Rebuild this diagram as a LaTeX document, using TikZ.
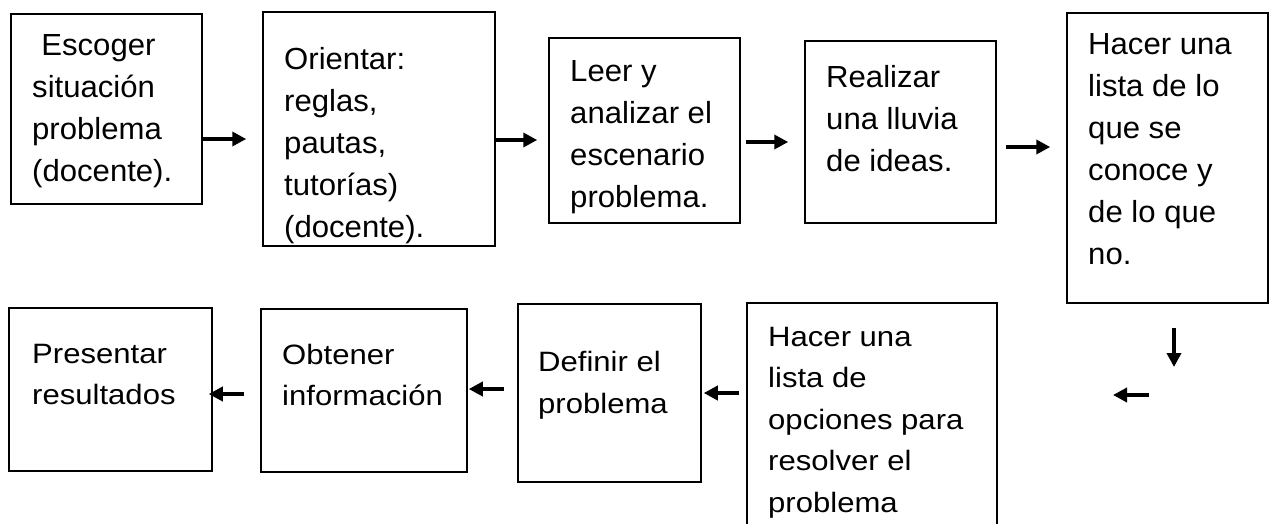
\documentclass[tikz,border=0pt]{standalone}
\usepackage{fontspec}
\setmainfont{Liberation Sans}
\newfontfamily\arribafont[FakeStretch=1.02]{Liberation Sans}
\newfontfamily\abajofont[FakeStretch=1.11]{Liberation Sans}
\usetikzlibrary{arrows.meta}

\begin{document}
\begin{tikzpicture}[x=1pt, y=-1pt,
		paso/.style={draw, line width=1.5pt, inner sep=0pt},
		texto/.style={anchor=north west, inner sep=0pt, align=left, font=\arribafont\fontsize{30.5}{42}\selectfont},
		textob/.style={texto, font=\abajofont\fontsize{28}{41.5}\selectfont},
		flecha/.style={line width=4pt, -{Triangle[length=14pt, width=14pt]}}]
		%%%%% START %%%%%
		
		\useasboundingbox (0, 0) rectangle (1271, 523);
		\clip (0, 0) rectangle (1271, 523);
		
		% fila de arriba
		\node[paso, minimum width=191pt, minimum height=190pt] (b1) at (106.5, 109) {};
		\node[paso, minimum width=232pt, minimum height=234pt] (b2) at (379, 129) {};
		\node[paso, minimum width=191pt, minimum height=185pt] (b3) at (644.5, 130.5) {};
		\node[paso, minimum width=191pt, minimum height=182pt] (b4) at (900.5, 132) {};
		\node[paso, minimum width=201pt, minimum height=290pt] (b5) at (1167.5, 158) {};
		
		\node[texto] (t1) at (32, 34.5) {\hspace*{0.3em}Escoger\\situación\\problema\\(docente).};
		\node[texto] (t2) at (284, 47) {Orientar:\\reglas,\\pautas,\\tutorías)\\(docente).};
		\node[texto] (t3) at (570, 60) {Leer y\\analizar el\\escenario\\problema.};
		\node[texto] (t4) at (826, 65.5) {Realizar\\una lluvia\\de ideas.};
		\node[texto] (t5) at (1088, 33.5) {Hacer una\\lista de lo\\que se\\conoce y\\de lo que\\no.};
		
		% fila de abajo
		\node[paso, minimum width=250pt, minimum height=242pt] (b6) at (872, 424) {};
		\node[paso, minimum width=183pt, minimum height=178pt] (b7) at (609.5, 393) {};
		\node[paso, minimum width=206pt, minimum height=163pt] (b8) at (364, 390.5) {};
		\node[paso, minimum width=203pt, minimum height=163pt] (b9) at (110.5, 389.5) {};
		
		\node[textob] (t6) at (768, 327) {Hacer una\\lista de\\opciones para\\resolver el\\problema};
		\node[textob] (t7) at (538, 351.5) {Definir el\\problema};
		\node[textob] (t8) at (282, 344) {Obtener\\información};
		\node[textob] (t9) at (32, 344) {Presentar\\resultados};
		
		% flechas
		\draw[flecha, shorten >=16pt] ([yshift=-30pt]b1.east) -- ([yshift=-30pt]b1.east -| b2.west);
		\draw[flecha, shorten >=11pt] ([yshift=-11pt]b2.east) -- ([yshift=-11pt]b2.east -| b3.west);
		\draw[flecha, shorten <=5pt, shorten >=16pt] ([yshift=-11.5pt]b3.east) -- ([yshift=-11.5pt]b3.east -| b4.west);
		\draw[flecha, shorten <=9pt, shorten >=16pt] ([yshift=-15pt]b4.east) -- ([yshift=-15pt]b4.east -| b5.west);
		
		\coordinate (baja) at (1174, 367);
		\draw[flecha, shorten <=24pt] ([xshift=6.5pt]b5.south) -- (baja);
		\coordinate (giroA) at (1149, 395);
		\coordinate (giroB) at (1113, 395);
		\draw[flecha] (giroA) -- (giroB);
		
		\draw[flecha, shorten <=7pt, shorten >=2pt] (b7.east -| b6.west) -- (b7.east);
		\draw[flecha, shorten <=13pt, shorten >=1pt] ([yshift=1.5pt]b8.east -| b7.west) -- ([yshift=1.5pt]b8.east);
		\draw[flecha, shorten <=16pt, shorten >=-4pt] ([yshift=-4.5pt]b9.east -| b8.west) -- ([yshift=-4.5pt]b9.east);
		
		%%%%% END %%%%%
	\end{tikzpicture}
\end{document}
